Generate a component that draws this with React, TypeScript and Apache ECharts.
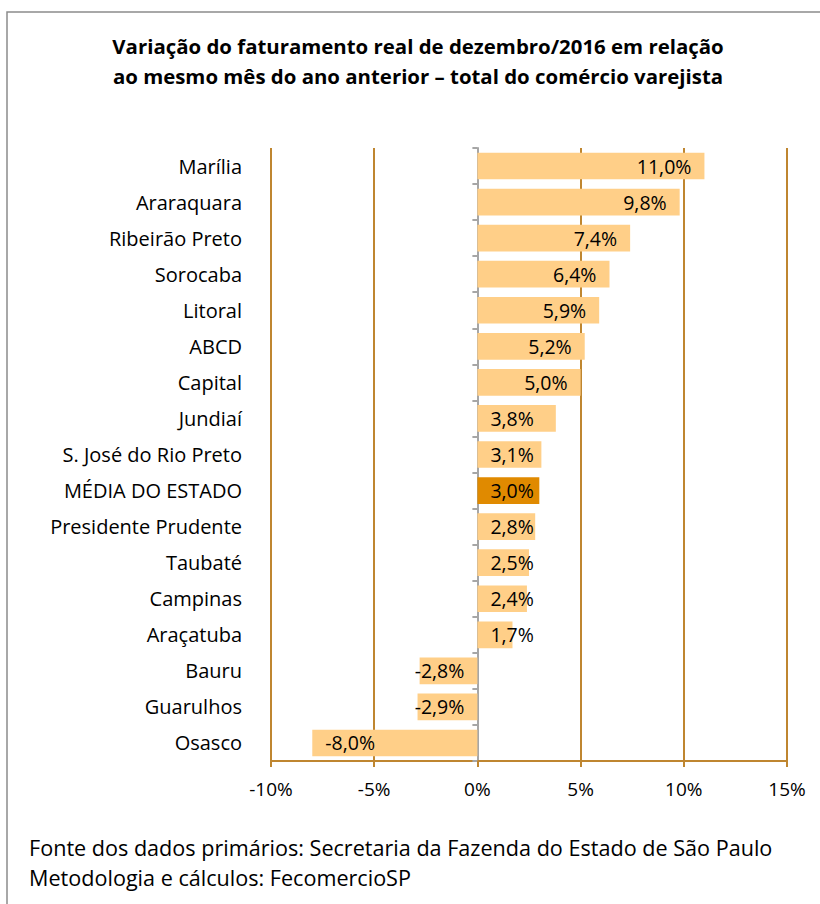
import React, { useEffect, useRef } from "react";
import * as echarts from "echarts";

const categories = [
  "Marília",
  "Araraquara",
  "Ribeirão Preto",
  "Sorocaba",
  "Litoral",
  "ABCD",
  "Capital",
  "Jundiaí",
  "S. José do Rio Preto",
  "MÉDIA DO ESTADO",
  "Presidente Prudente",
  "Taubaté",
  "Campinas",
  "Araçatuba",
  "Bauru",
  "Guarulhos",
  "Osasco",
];
const values = [11.0, 9.8, 7.4, 6.4, 5.9, 5.2, 5.0, 3.8, 3.1, 3.0, 2.8, 2.5, 2.4, 1.7, -2.8, -2.9, -8.0];
const highlighted = "MÉDIA DO ESTADO";
const titleLines = [
  "Variação do faturamento real de dezembro/2016 em relação",
  "ao mesmo mês do ano anterior – total do comércio varejista",
];
const footerLines = [
  "Fonte dos dados primários: Secretaria da Fazenda do Estado de São Paulo",
  "Metodologia e cálculos: FecomercioSP",
];
const xMin = -10;
const xMax = 15;
const xStep = 5;

const FONT = "'Open Sans', Lato, sans-serif";
const GOLD = "#BF8630";
const BAR = "#FFCF88";
const BAR_HI = "#E08A00";

export default function App() {
  const ref = useRef<HTMLDivElement>(null);
  useEffect(() => {
    if (!ref.current) return;
    const chart = echarts.init(ref.current, undefined, { renderer: "svg" });
    const fmt = (v: number) => v.toFixed(1).replace(".", ",") + "%";
    const data = values.map((v, i) => {
      const small = Math.abs(v) < 4;
      let position: string;
      if (v >= 0) position = small ? "insideLeft" : "insideRight";
      else position = small ? "insideRight" : "insideLeft";
      return {
        value: v,
        itemStyle: { color: categories[i] === highlighted ? BAR_HI : BAR },
        label: { position, distance: 13 },
      };
    });
    chart.setOption({
      animation: false,
      grid: { left: 271, right: 33, top: 148, bottom: 143, containLabel: false },
      xAxis: {
        type: "value",
        min: xMin,
        max: xMax,
        interval: xStep,
        axisLine: { show: true, onZero: false, lineStyle: { color: GOLD, width: 2 } },
        axisTick: { show: true, length: 6, lineStyle: { color: GOLD, width: 2 } },
        splitLine: { show: true, lineStyle: { color: GOLD, width: 2 } },
        axisLabel: {
          formatter: (v: number) => `${v}%`,
          margin: 18,
          fontSize: 19,
          color: "#000",
          fontFamily: FONT,
        },
      },
      yAxis: [
        {
          type: "category",
          data: categories,
          inverse: true,
          position: "left",
          axisLine: { show: false, onZero: false },
          axisTick: { show: false },
          axisLabel: { margin: 29, fontSize: 20, color: "#000", fontFamily: FONT },
        },
        {
          type: "category",
          data: categories,
          inverse: true,
          position: "left",
          axisLine: { show: true, onZero: true, onZeroAxisIndex: 0, lineStyle: { color: "#A6A6A6", width: 2 } },
          axisTick: { show: true, length: 5, lineStyle: { color: "#A6A6A6", width: 2 } },
          axisLabel: { show: false },
          splitLine: { show: false },
        },
      ],
      series: [
        {
          type: "bar",
          yAxisIndex: 0,
          data,
          barCategoryGap: "26%",
          label: {
            show: true,
            formatter: (p: any) => fmt(p.value),
            fontSize: 19.5,
            color: "#000",
            fontFamily: FONT,
            textBorderWidth: 0,
            textBorderColor: "transparent",
          },
        },
      ],
      graphic: [
        {
          type: "rect",
          shape: { x: 7, y: 12, width: 900, height: 1000 },
          style: { fill: "none", stroke: "#8C8C8C", lineWidth: 1.5 },
          silent: true,
        },
        ...titleLines.map((t, i) => ({
          type: "text",
          x: 418,
          y: 46 + i * 30,
          style: {
            text: t,
            fontSize: 20.4,
            fontWeight: "bold",
            fontFamily: FONT,
            fill: "#000",
            textAlign: "center",
            textVerticalAlign: "middle",
          },
        })),
        ...footerLines.map((t, i) => ({
          type: "text",
          x: 29,
          y: 847 + i * 30,
          style: {
            text: t,
            fontSize: 21.6,
            fontFamily: FONT,
            fill: "#000",
            textAlign: "left",
            textVerticalAlign: "middle",
          },
        })),
      ],
    });
    return () => chart.dispose();
  }, []);
  return (
    <div
      ref={ref}
      style={{ position: "fixed", left: 0, top: 0, width: 820, height: 904, background: "#fff" }}
    />
  );
}
